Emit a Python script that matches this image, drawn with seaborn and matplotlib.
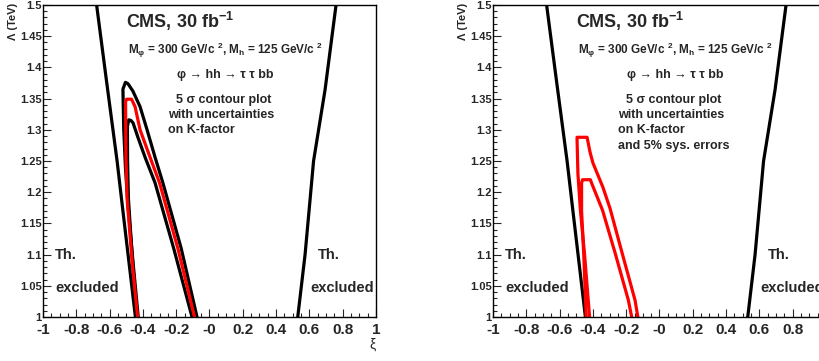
import numpy as np
import seaborn as sns
import matplotlib.pyplot as plt

# theory exclusion boundaries (same in both panels)
th_left_xi = [-0.678, -0.617, -0.555, -0.52, -0.445]
th_left_lam = [1.5, 1.375, 1.25, 1.17, 1.0]
th_right_xi = [0.53, 0.574, 0.625, 0.694, 0.76]
th_right_lam = [1.0, 1.1, 1.25, 1.364, 1.5]

# left panel: 5 sigma contours, K-factor uncertainty (outer, nominal, inner)
outer_xi = [-0.428, -0.46, -0.49, -0.505, -0.515, -0.52, -0.505, -0.49, -0.46,
            -0.417, -0.375, -0.327, -0.28, -0.17, -0.075]
outer_lam = [1.0, 1.09, 1.18, 1.24, 1.30, 1.365, 1.376, 1.374, 1.362,
             1.337, 1.30, 1.256, 1.215, 1.11, 1.0]
nominal_xi = [-0.432, -0.465, -0.495, -0.502, -0.504, -0.498, -0.468, -0.447,
              -0.417, -0.357, -0.30, -0.19, -0.09]
nominal_lam = [1.0, 1.09, 1.19, 1.26, 1.345, 1.349, 1.349, 1.337,
               1.30, 1.256, 1.215, 1.11, 1.0]
inner_xi = [-0.436, -0.465, -0.487, -0.492, -0.493, -0.485, -0.472, -0.459,
            -0.43, -0.387, -0.327, -0.215, -0.105]
inner_lam = [1.0, 1.10, 1.19, 1.25, 1.305, 1.316, 1.315, 1.311,
             1.288, 1.256, 1.215, 1.11, 1.0]

# right panel: with 5% systematic errors
sys_outer_xi = [-0.42, -0.45, -0.475, -0.49, -0.495, -0.495, -0.435, -0.417,
                -0.40, -0.34, -0.297, -0.225, -0.147, -0.13]
sys_outer_lam = [1.0, 1.10, 1.171, 1.23, 1.283, 1.288, 1.288, 1.264,
                 1.247, 1.208, 1.174, 1.103, 1.027, 1.0]
sys_inner_xi = [-0.44, -0.455, -0.468, -0.468, -0.462, -0.415, -0.407,
                -0.342, -0.267, -0.187, -0.167]
sys_inner_lam = [1.0, 1.10, 1.17, 1.215, 1.22, 1.22, 1.214,
                 1.171, 1.103, 1.027, 1.0]

x_ticks = [-1, -0.8, -0.6, -0.4, -0.2, 0, 0.2, 0.4, 0.6, 0.8, 1]
x_labels = ["-1", "-0.8", "-0.6", "-0.4", "-0.2", "-0", "0.2", "0.4", "0.6", "0.8", "1"]
y_ticks = [1, 1.05, 1.1, 1.15, 1.2, 1.25, 1.3, 1.35, 1.4, 1.45, 1.5]
y_labels = ["1", "1.05", "1.1", "1.15", "1.2", "1.25", "1.3", "1.35", "1.4", "1.45", "1.5"]

sns.set_style("ticks")
plt.rcParams['font.family'] = ['Liberation Sans', 'DejaVu Sans']
plt.rcParams['font.weight'] = 'bold'
plt.rcParams['mathtext.fontset'] = 'custom'
plt.rcParams['mathtext.rm'] = 'Liberation Sans:bold'
plt.rcParams['mathtext.bf'] = 'Liberation Sans:bold'
plt.rcParams['mathtext.it'] = 'Liberation Sans:bold'
plt.rcParams['mathtext.default'] = 'bf'

fig = plt.figure(figsize=(8.19, 3.61), dpi=100)
ax1 = fig.add_axes([43 / 819, 44 / 361, 333 / 819, 312 / 361])
ax2 = fig.add_axes([493 / 819, 44 / 361, 333 / 819, 312 / 361])


def line(ax, xs, ys, color):
    sns.lineplot(x=xs, y=ys, sort=False, estimator=None, color=color,
                 linewidth=2.3, ax=ax)


def setup(ax, extra_line):
    ax.set_xlim(-1, 1)
    ax.set_ylim(1, 1.5)
    ax.set_xticks(x_ticks)
    ax.set_xticklabels(x_labels, fontsize=11, fontweight='bold')
    ax.set_yticks(y_ticks)
    ax.set_yticklabels(y_labels, fontsize=8, fontweight='bold')
    ax.set_xticks(np.arange(-1, 1.001, 0.05), minor=True)
    ax.set_yticks(np.arange(1, 1.5001, 0.01), minor=True)
    ax.tick_params(which='major', direction='in', length=6, width=0.8,
                   top=False, right=False)
    ax.tick_params(which='minor', direction='in', length=3, width=0.8,
                   top=False, right=False)
    ax.tick_params(axis='x', pad=4)
    ax.tick_params(axis='y', pad=1)
    for s in ax.spines.values():
        s.set_linewidth(1.0)
        s.set_color('black')
    ax.set_xlabel('')
    ax.set_ylabel('')
    ax.text(-0.09, 1.006, "Λ (TeV)", transform=ax.transAxes, rotation=90,
            ha='center', va='top', fontsize=8, fontweight='bold')
    ax.text(0.988, -0.09, "ξ", transform=ax.transAxes, ha='center',
            va='center', fontsize=10, fontweight='normal')

    line(ax, th_left_xi, th_left_lam, 'black')
    line(ax, th_right_xi, th_right_lam, 'black')

    ax.text(-0.50, 1.463, r"CMS, 30 fb$^{-1}$", fontsize=13, fontweight='bold')
    ax.text(0.094, 1.4215, r"M$_{φ}$ = 300 GeV/c $^{2}$, M$_{h}$ = 125 GeV/c $^{2}$",
            fontsize=8.5, ha='center', fontweight='bold')
    ax.text(0.093, 1.383, "φ → hh → τ τ bb", fontsize=9, ha='center',
            fontweight='bold')
    ax.text(0.087, 1.343, "5 σ contour plot", fontsize=9, ha='center',
            fontweight='bold')
    ax.text(-0.25, 1.319, "with uncertainties", fontsize=9, fontweight='bold')
    ax.text(-0.25, 1.295, "on K-factor", fontsize=9, fontweight='bold')
    if extra_line:
        ax.text(-0.25, 1.269, "and 5% sys. errors", fontsize=9, fontweight='bold')

    ax.text(-0.928, 1.093, "Th.", fontsize=10.5, fontweight='bold')
    ax.text(-0.928, 1.040, "excluded", fontsize=10.5, fontweight='bold')
    ax.text(0.652, 1.093, "Th.", fontsize=10.5, fontweight='bold')
    ax.text(0.604, 1.040, "excluded", fontsize=10.5, fontweight='bold')


setup(ax1, False)
line(ax1, outer_xi, outer_lam, 'black')
line(ax1, inner_xi, inner_lam, 'black')
line(ax1, nominal_xi, nominal_lam, 'red')

setup(ax2, True)
line(ax2, sys_outer_xi, sys_outer_lam, 'red')
line(ax2, sys_inner_xi, sys_inner_lam, 'red')

plt.savefig('out.png', dpi=100)
